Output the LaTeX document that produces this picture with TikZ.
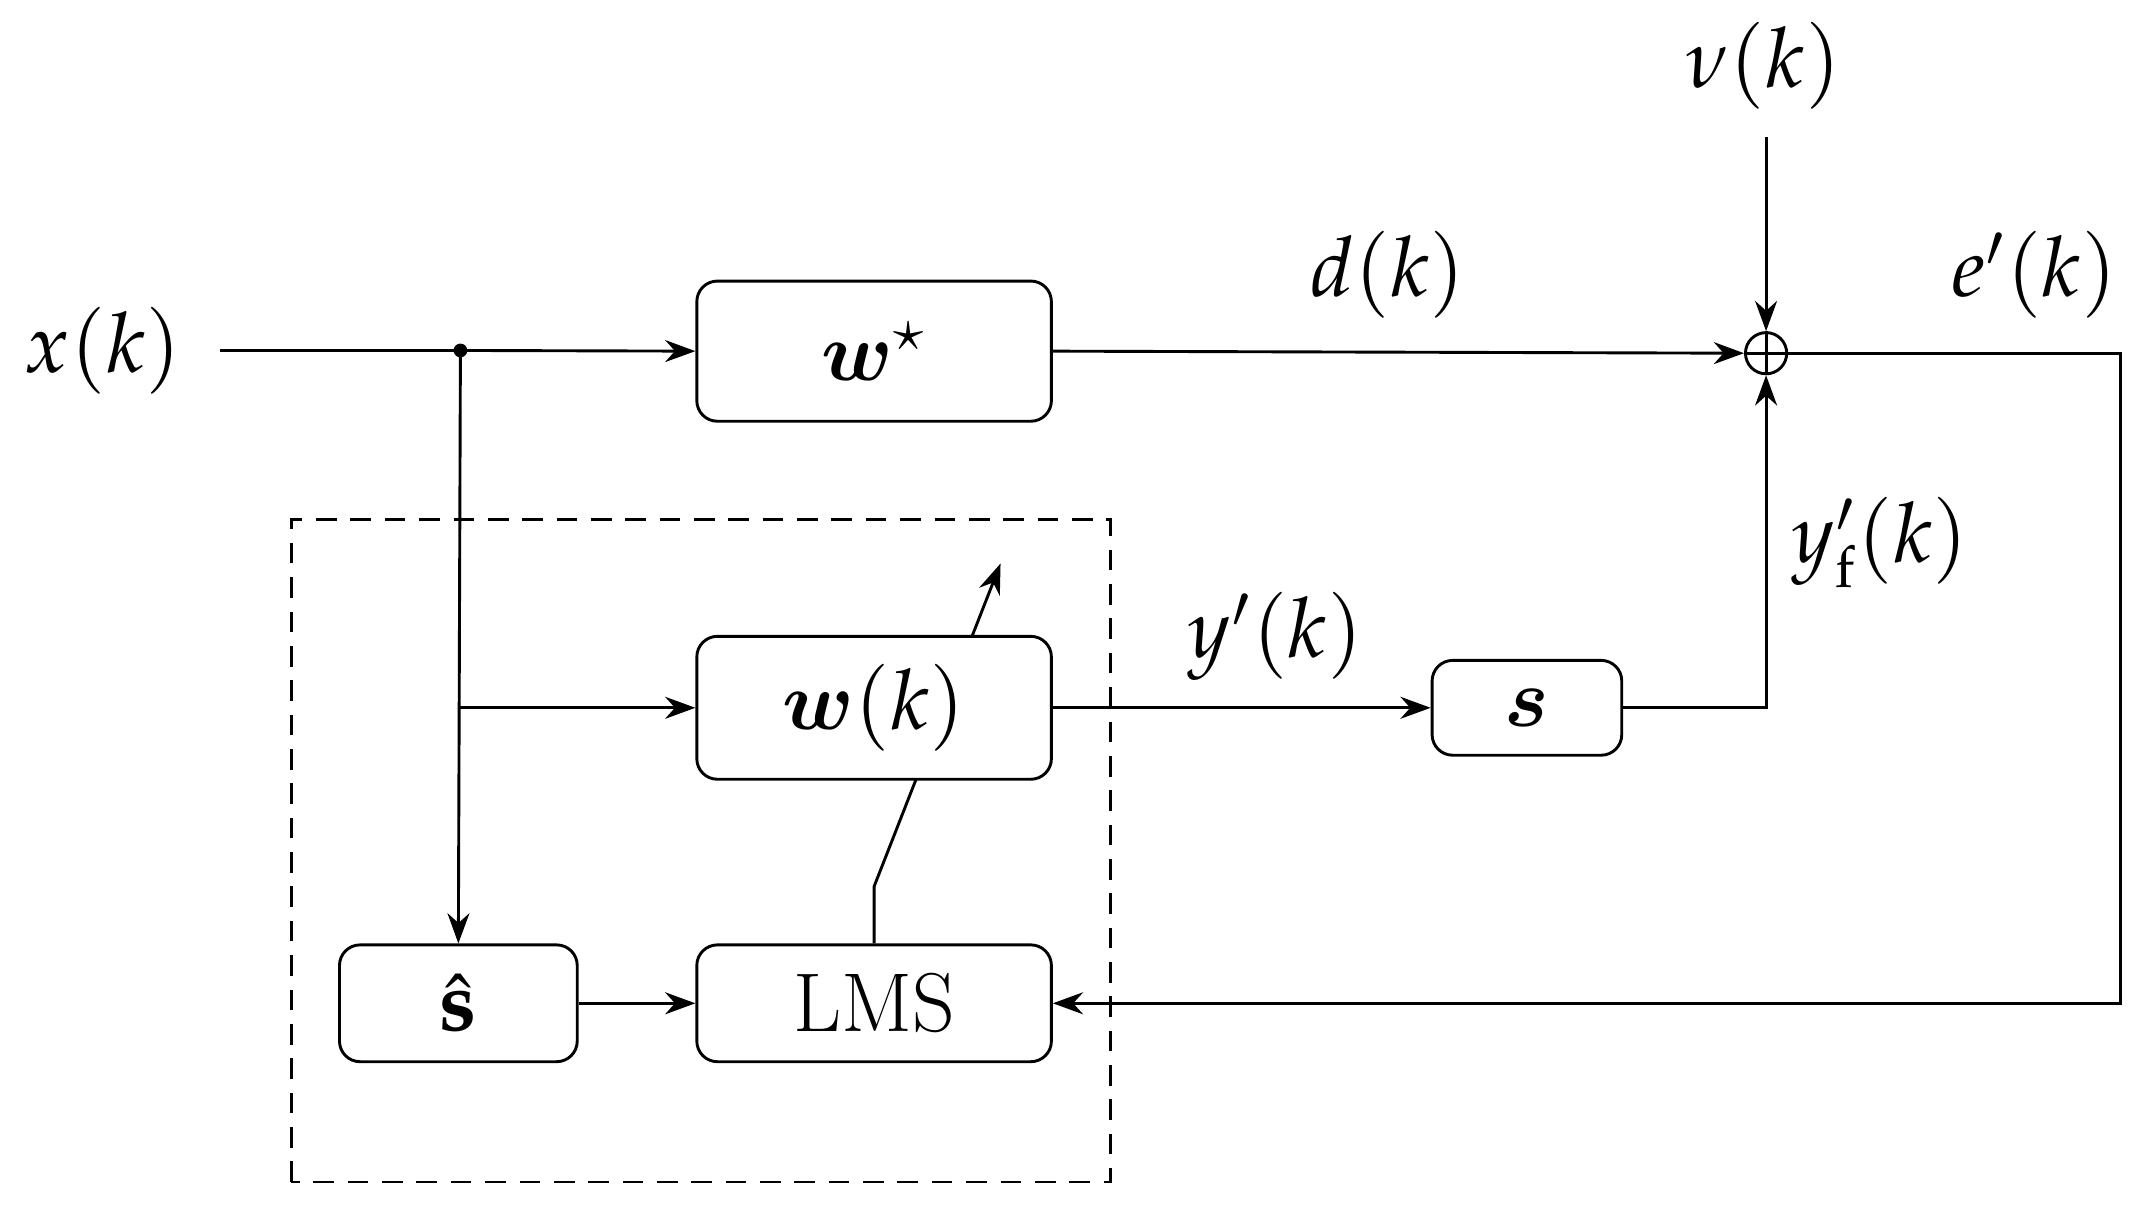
\documentclass[tikz,border=0pt]{standalone}
\usepackage{amsmath,bm}
\usepackage{mathpazo}
\usetikzlibrary{arrows.meta,backgrounds}
\begin{document}
\begin{tikzpicture}[
    blk/.style={draw,semithick,rounded corners=0.15cm,fill=white,inner sep=0pt,font=\LARGE},
    lbl/.style={font=\LARGE},
    sig/.style={semithick,-{Stealth[length=0.22cm,width=0.16cm]}},
    ln/.style={semithick}]
  \useasboundingbox (0,0) rectangle (15.6,8.8);
  % blocks
  \node[blk,minimum width=2.58cm,minimum height=1.02cm] (wstar) at (6.36,6.245) {$\bm{w}^{\star}$};
  \node[blk,minimum width=2.58cm,minimum height=1.04cm] (wk) at (6.36,3.65) {$\bm{w}(k)$};
  \node[blk,minimum width=1.38cm,minimum height=0.69cm] (s) at (11.11,3.65) {$\bm{s}$};
  \node[blk,minimum width=1.73cm,minimum height=0.85cm] (shat) at (3.335,1.50) {$\hat{\mathbf{s}}$};
  \node[blk,minimum width=2.58cm,minimum height=0.85cm] (lms) at (6.36,1.50) {LMS};
  \node[draw,semithick,circle,minimum size=0.30cm,inner sep=0pt] (sum) at (12.85,6.23) {};
  \draw[semithick] (sum.north) -- (sum.south) (sum.west) -- (sum.east);
  % labels
  \node[lbl] (x) at (0.75,6.25) {$x(k)$};
  \node[lbl] (nu) at (12.83,8.32) {$\nu(k)$};
  \node[lbl] (d) at (10.10,6.80) {$d(k)$};
  \node[lbl] (e) at (14.80,6.80) {$e'(k)$};
  \node[lbl] (yp) at (9.28,4.17) {$y'(k)$};
  \node[lbl] (yf) at (13.68,4.85) {$y'_{\mathrm{f}}(k)$};
  % coordinates
  \coordinate (xs) at (1.60,6.25);
  \coordinate (br) at (3.35,6.25);
  \coordinate (br2) at (3.35,3.65);
  \coordinate (nutop) at (12.85,7.80);
  \coordinate (c1) at (15.43,6.23);
  \coordinate (c2) at (15.43,1.50);
  \coordinate (c3) at (12.85,3.65);
  \coordinate (bend) at (6.36,2.35);
  \coordinate (tip) at (7.28,4.70);
  % connectors
  \draw[ln] (xs) -- (br);
  \fill (br) circle (0.05);
  \draw[sig] (br) -- (wstar.west);
  \draw[sig] (br) -- (shat.north);
  \draw[sig] (br2) -- (wk.west);
  \draw[sig] (wstar.east) -- (sum.west);
  \draw[sig] (nutop) -- (sum.north);
  \draw[sig] (wk.east) -- (s.west);
  \draw[sig] (s.east) -- (c3) -- (sum.south);
  \draw[sig] (sum.east) -- (c1) -- (c2) -- (lms.east);
  \draw[sig] (shat.east) -- (lms.west);
  \begin{scope}[on background layer]
    \draw[sig] (lms.north) -- (bend) -- (tip);
  \end{scope}
  \draw[semithick,dashed,dash pattern=on 0.15cm off 0.1cm] (2.12,0.20) rectangle (8.08,5.02);
\end{tikzpicture}
\end{document}
